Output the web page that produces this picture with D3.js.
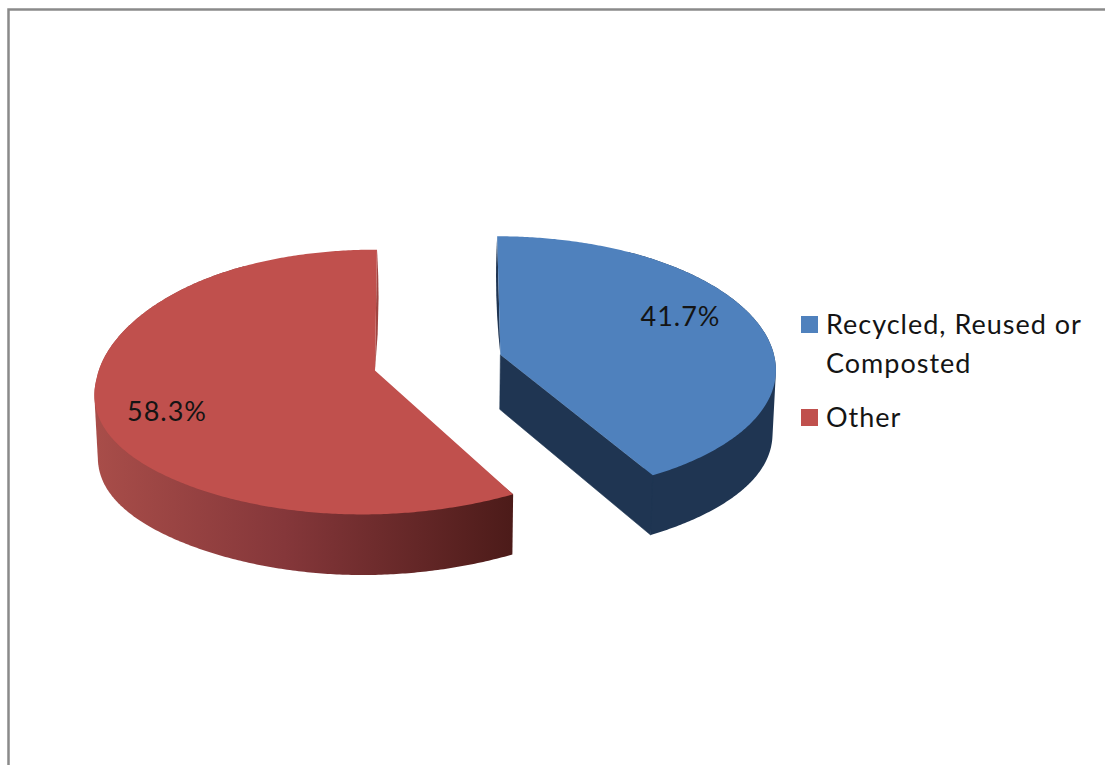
<!DOCTYPE html>
<html lang="en">
<head>
<meta charset="UTF-8">
<title>Recycled share</title>
<script src="https://d3js.org/d3.v7.min.js"></script>
<style>
    body { margin: 0; background: white; }
    svg { display: block; }
    text { font-family: Lato, "Open Sans", sans-serif; fill: #141414; letter-spacing: 1px; }
</style>
</head>
<body>
<div id="chart"></div>
<script>
const categories = ["Recycled, Reused or Composted", "Other"];
const shares = [41.7, 58.3];
const shareLabels = ["41.7%", "58.3%"];

const topColors = ["#4f81bd", "#c0504d"];
const sliverColors = ["#1f3552", "#a04541"];

const width = 1105, height = 765;
const fontSize = 27;

// pie projection, tuned against the picture
const x0 = 438, y0 = 362.5;
const rx = 275, ry = 130, persp = 0.087;
const explode = 0.236, depth = 55, bottomScale = 0.99;

// small per-slice corrections, the original renderer's ellipse isn't a true one
const sideDrop = [0.015, 0.06];
const sideDepth = [8, 6];
const backShift = [0.007, -0.012];
const frontShift = [0, -0.022];

const labelX = [680.5, 167];
const labelY = [325.5, 420.5];

const svg = d3.select("#chart").append("svg")
    .attr("width", width)
    .attr("height", height);

svg.append("rect")
    .attr("x", 8.5).attr("y", 9.5)
    .attr("width", width + 50).attr("height", height + 50)
    .attr("fill", "white")
    .attr("stroke", "#8a8a8a")
    .attr("stroke-width", 2.5);

const defs = svg.append("defs");
const wallGrad = defs.append("linearGradient")
    .attr("id", "wall-red")
    .attr("gradientUnits", "userSpaceOnUse")
    .attr("x1", 97).attr("x2", 513).attr("y1", 0).attr("y2", 0);
wallGrad.append("stop").attr("offset", "0%").attr("stop-color", "#a84d49");
wallGrad.append("stop").attr("offset", "45%").attr("stop-color", "#85373a");
wallGrad.append("stop").attr("offset", "100%").attr("stop-color", "#4c1b19");

const pie = d3.pie().sort(null).value(d => d);
const slices = pie(shares);

// wx, wv are ground-plane coords in radius units, wv grows towards the viewer
function project(wx, wv, bottom, extra) {
    const p = 1 / (1 - persp * wv);
    let px = x0 + wx * rx * p;
    let py = y0 + wv * ry * p;
    if (bottom) {
        px = x0 + (px - x0) * bottomScale;
        py += (depth + (extra || 0)) * p;
    }
    return [px, py];
}

const line = d3.line();

slices.forEach((s, i) => {
    const mid = (s.startAngle + s.endAngle) / 2;
    const cxw = explode * Math.sin(mid);
    const cvw = -explode * Math.cos(mid);
    const angles = d3.range(s.startAngle, s.endAngle, 0.01).concat([s.endAngle]);
    const rimPoint = (a, b) => {
        const c = Math.cos(a);
        const sin4 = Math.pow(Math.sin(a), 4);
        const shift = c > 0 ? backShift[i] * c : -frontShift[i] * c;
        return project(cxw + Math.sin(a) + shift, cvw - c + sideDrop[i] * sin4, b, sideDepth[i] * sin4);
    };
    const rim = b => angles.map(a => rimPoint(a, b));
    const apex = project(cxw, cvw, false);
    const apexBottom = project(cxw, cvw, true);
    const g = svg.append("g");

    // side wall as a hull so the silhouette runs straight down from the top edge;
    // only the front part of the rim, the rest would poke into the gap
    const wallAngles = angles.filter(a => Math.cos(a) < 0.86);
    const wallPoints = wallAngles.map(a => rimPoint(a, false)).concat(wallAngles.map(a => rimPoint(a, true)));
    g.append("path")
        .attr("d", line(d3.polygonHull(wallPoints)) + "Z")
        .attr("fill", i === 0 ? sliverColors[0] : "url(#wall-red)");

    // cut face nearest the viewer (only the blue slice shows one)
    if (i === 0) {
        const endTop = rim(false)[angles.length - 1];
        const endBottom = rim(true)[angles.length - 1];
        g.append("path")
            .attr("d", line([apex, endTop, endBottom, apexBottom]) + "Z")
            .attr("fill", sliverColors[0])
            .attr("stroke", sliverColors[0])
            .attr("stroke-width", 0.6);
    }

    // thin sliver of the far cut face
    const far = i === 0 ? rim(false)[0] : rim(false)[angles.length - 1];
    const bulge = i === 0 ? -2.5 : 2.5;
    const sliver = d3.path();
    sliver.moveTo(far[0], far[1]);
    sliver.quadraticCurveTo((far[0] + apex[0]) / 2 + bulge * 2, (far[1] + apex[1]) / 2, apex[0], apex[1]);
    sliver.closePath();
    g.append("path").attr("d", sliver.toString()).attr("fill", sliverColors[i]);

    g.append("path")
        .attr("d", line([apex].concat(rim(false))) + "Z")
        .attr("fill", topColors[i]);

    g.append("text")
        .attr("x", labelX[i]).attr("y", labelY[i])
        .attr("text-anchor", "middle")
        .attr("font-size", fontSize)
        .text(shareLabels[i]);
});

// legend
const legend = svg.append("g");
const legendRows = [["Recycled, Reused or", "Composted"], ["Other"]];
const legendTop = [316, 409];
legendRows.forEach((rows, i) => {
    legend.append("rect")
        .attr("x", 801).attr("y", legendTop[i])
        .attr("width", 17).attr("height", 17)
        .attr("fill", topColors[i]);
    rows.forEach((t, j) => {
        legend.append("text")
            .attr("x", 826)
            .attr("y", legendTop[i] + 18 + j * 39)
            .attr("font-size", fontSize)
            .text(t);
    });
});
</script>
</body>
</html>
